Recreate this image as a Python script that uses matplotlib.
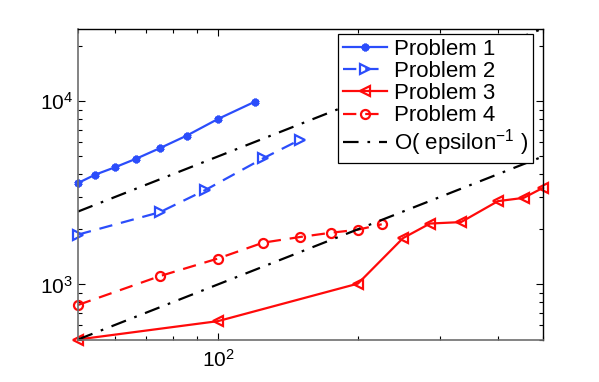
import numpy as np
import matplotlib
matplotlib.use("Agg")
import matplotlib.pyplot as plt
from matplotlib.ticker import LogLocator, NullFormatter

plt.rcParams["font.family"] = ["Liberation Sans", "DejaVu Sans"]
plt.rcParams["mathtext.fontset"] = "custom"
plt.rcParams["mathtext.rm"] = "Liberation Sans"
plt.rcParams["mathtext.it"] = "Liberation Sans:italic"
plt.rcParams["mathtext.bf"] = "Liberation Sans:bold"

# data (x = 1/epsilon, y = cost)
p1_x = [50, 54.5, 60, 66.7, 75, 85.7, 100, 120]
p1_y = [3580, 3980, 4360, 4860, 5550, 6500, 8010, 9950]

p2_x = [50, 75, 94, 125, 150]
p2_y = [1870, 2480, 3280, 4880, 6160]

p3_x = [50, 100, 200, 250, 285.7, 333.3, 400, 454.5, 500]
p3_y = [500, 630, 1010, 1790, 2150, 2190, 2850, 2970, 3370]

p4_x = [50, 75, 100, 125, 150, 175, 200, 225]
p4_y = [772, 1110, 1385, 1690, 1815, 1915, 1990, 2130]

ref_x = [50, 500]
ref_hi = [2500, 25000]
ref_lo = [500, 5000]

BLUE = "#2b4dfb"
RED = "#ff0a0a"

fig = plt.figure(figsize=(5.99, 3.82), dpi=100)
ax = fig.add_axes([78 / 599, 1 - 339.5 / 382, 465 / 599, 311 / 382])

ax.plot(p1_x, p1_y, "-", color=BLUE, lw=1.6, marker=(6, 2, 0), ms=5.5, mew=2.2,
        clip_on=False, label="Problem 1")
ax.plot(p2_x, p2_y, "--", color=BLUE, lw=1.6, marker=">", ms=7, mfc="none", mew=1.6,
        dashes=(6, 4), clip_on=False, label="Problem 2")
ax.plot(p3_x, p3_y, "-", color=RED, lw=1.6, marker="<", ms=7, mfc="none", mew=1.6,
        clip_on=False, label="Problem 3")
ax.plot(p4_x, p4_y, "--", color=RED, lw=1.6, marker="o", ms=6.5, mfc="none", mew=1.6,
        dashes=(6, 4), clip_on=False, label="Problem 4")
ax.plot(ref_x, ref_hi, color="black", lw=1.6, dashes=(7, 4, 1.2, 4),
        label=r"O( epsilon$^{\mathregular{-1}}$ )")
ax.plot(ref_x, ref_lo, color="black", lw=1.6, dashes=(7, 4, 1.2, 4))

ax.set_xscale("log")
ax.set_yscale("log")
ax.set_xlim(50, 500)
ax.set_ylim(500, 25000)

ax.xaxis.set_major_locator(LogLocator(base=10, numticks=10))
ax.yaxis.set_major_locator(LogLocator(base=10, numticks=10))
ax.xaxis.set_minor_locator(LogLocator(base=10, subs=np.arange(2, 10), numticks=10))
ax.yaxis.set_minor_locator(LogLocator(base=10, subs=np.arange(2, 10), numticks=10))
ax.xaxis.set_minor_formatter(NullFormatter())
ax.yaxis.set_minor_formatter(NullFormatter())

ax.tick_params(which="both", direction="in", top=True, right=True, labelsize=15)
ax.tick_params(which="major", length=5, width=0.8)
ax.tick_params(which="minor", length=3, width=0.8)
ax.tick_params(axis="x", pad=7)
for side in ["left", "bottom"]:
    ax.spines[side].set_color("#6e6e6e")
    ax.spines[side].set_linewidth(1.2)
for side in ["top", "right"]:
    ax.spines[side].set_color("black")
    ax.spines[side].set_linewidth(1.0)

leg = ax.legend(loc="upper right", bbox_to_anchor=(0.978, 0.982), borderaxespad=0,
                fontsize=16, fancybox=False, framealpha=1, edgecolor="black",
                handlelength=2.0, handletextpad=0.3, labelspacing=0.05,
                borderpad=0.22)
leg.get_frame().set_linewidth(0.9)
leg.set_zorder(5)

fig.savefig("out.png", dpi=100, facecolor="white")
